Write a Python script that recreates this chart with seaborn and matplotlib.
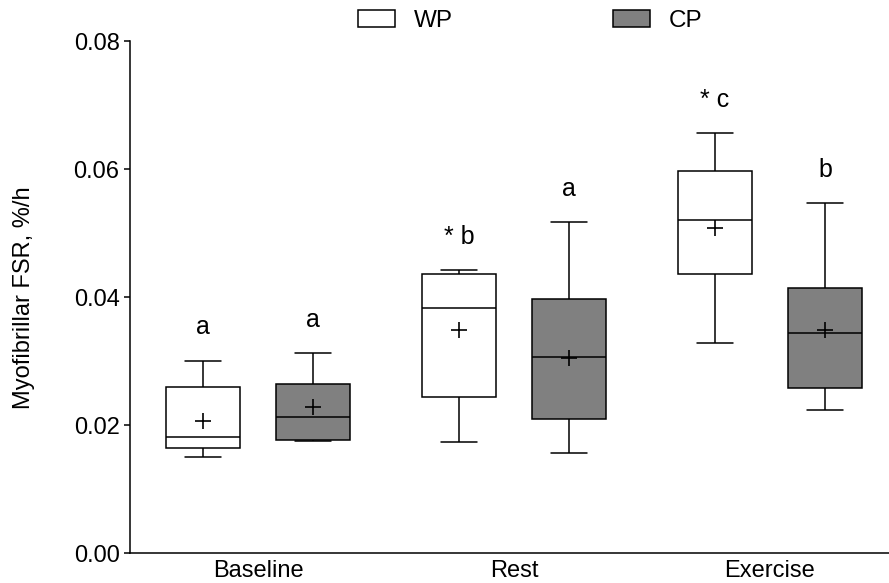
import pandas as pd
import seaborn as sns
import matplotlib.pyplot as plt

phases = ["Baseline", "Rest", "Exercise"]
groups = ["WP", "CP"]

# 5点要約 (min, q1, median, q3, max), %/h
wp_summary = [
    [0.0151, 0.0165, 0.0182, 0.0260, 0.0301],
    [0.0174, 0.0244, 0.0383, 0.0436, 0.0443],
    [0.0329, 0.0437, 0.0521, 0.0597, 0.0657],
]
cp_summary = [
    [0.0175, 0.0177, 0.0213, 0.0265, 0.0313],
    [0.0157, 0.0210, 0.0307, 0.0398, 0.0517],
    [0.0224, 0.0258, 0.0344, 0.0415, 0.0547],
]
wp_mean = [0.0207, 0.0349, 0.0508]
cp_mean = [0.0229, 0.0305, 0.0349]
wp_letters = ["a", "* b", "* c"]
cp_letters = ["a", "a", "b"]

rows = []
for group, summary in zip(groups, [wp_summary, cp_summary]):
    for phase, vals in zip(phases, summary):
        for v in vals:
            rows.append({"phase": phase, "group": group, "fsr": v})
df = pd.DataFrame(rows)

mean_df = pd.DataFrame({
    "phase": phases * 2,
    "group": ["WP"] * 3 + ["CP"] * 3,
    "mean": wp_mean + cp_mean,
})

sns.set_theme(style="ticks")
plt.rcParams['font.family'] = ['Liberation Sans', 'DejaVu Sans']
plt.rcParams['text.color'] = 'black'
plt.rcParams['axes.labelcolor'] = 'black'

fig = plt.figure(figsize=(8.89, 5.83), dpi=100)
ax = fig.add_axes([0.1462, 0.0509, 0.8538, 0.8782])

palette = {"WP": "white", "CP": "#808080"}
sns.boxplot(data=df, x="phase", y="fsr", hue="group", order=phases, hue_order=groups,
            palette=palette, width=0.86, gap=0.333, linecolor="black", linewidth=1.1,
            showfliers=False, saturation=1, ax=ax)

# 平均値 (+)
sns.pointplot(data=mean_df, x="phase", y="mean", hue="group", order=phases, hue_order=groups,
              palette={"WP": "black", "CP": "black"}, dodge=0.43, errorbar=None,
              linestyle="none", marker="+", markersize=12, markeredgewidth=1.2,
              legend=False, ax=ax)

handles, labels = ax.get_legend_handles_labels()
ax.get_legend().remove()

# 有意差の文字
offset = 0.215
for i in range(len(phases)):
    ax.text(i - offset, wp_summary[i][-1] + 0.0052, wp_letters[i], ha="center", va="center",
            fontsize=18, color="black")
    ax.text(i + offset, cp_summary[i][-1] + 0.0052, cp_letters[i], ha="center", va="center",
            fontsize=18, color="black")

ax.set_xlim(-0.5, 2.465)
ax.set_ylim(0, 0.08)
ax.set_yticks([0, 0.02, 0.04, 0.06, 0.08])
ax.set_yticklabels([f"{t:.2f}" for t in [0, 0.02, 0.04, 0.06, 0.08]])
ax.set_xlabel("")
ax.set_ylabel("Myofibrillar FSR, %/h", fontsize=17, labelpad=28, color="black")
ax.tick_params(axis='y', labelsize=17, length=4, width=1.1, color="black", labelcolor="black")
ax.tick_params(axis='x', labelsize=17, length=0, pad=5, labelcolor="black")
sns.despine(ax=ax)
for s in ["left", "bottom"]:
    ax.spines[s].set_color("black")
    ax.spines[s].set_linewidth(1.1)

leg = fig.legend(handles, labels, loc="upper left", bbox_to_anchor=(358 / 889, 1 - 10 / 583), ncol=2,
                 frameon=False, handlelength=1.52, handleheight=0.7, handletextpad=0.78,
                 columnspacing=6.6, borderpad=0, borderaxespad=0, fontsize=17.5)
for t in leg.get_texts():
    t.set_color("black")

fig.savefig("out.png", dpi=100)
